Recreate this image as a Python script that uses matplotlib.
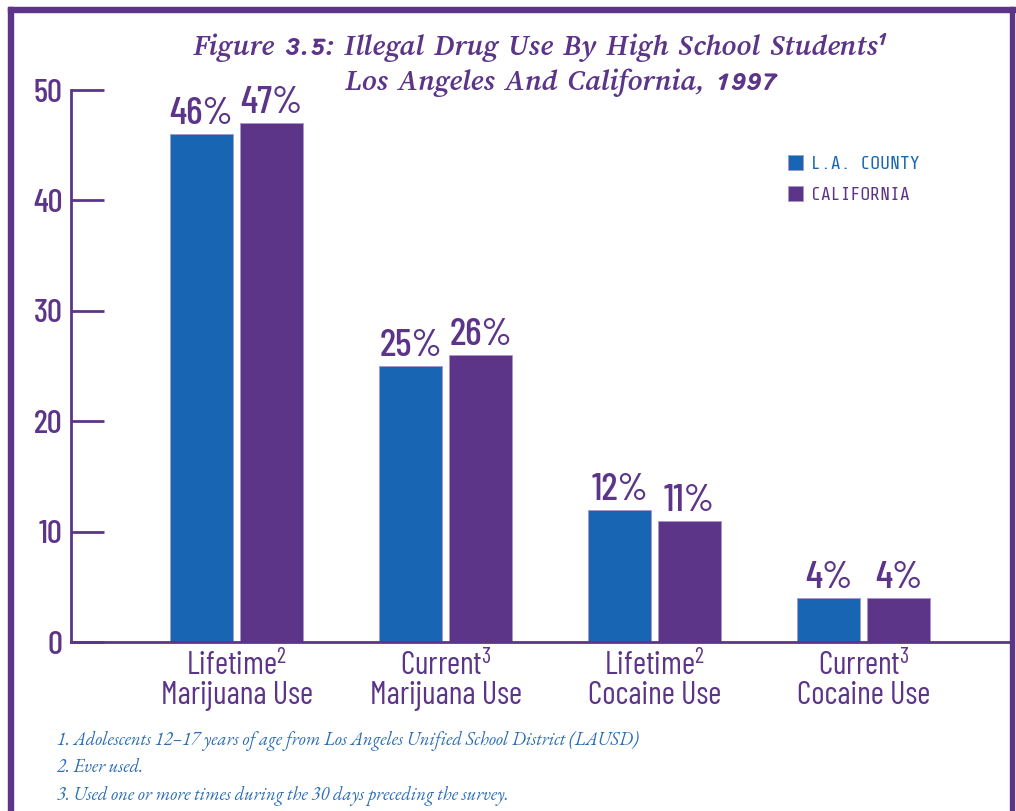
import matplotlib
matplotlib.use("Agg")
import matplotlib.pyplot as plt
from matplotlib.patches import Rectangle
import numpy as np

# data
categories = ["Lifetime$^{2}$\nMarijuana Use", "Current$^{3}$\nMarijuana Use",
              "Lifetime$^{2}$\nCocaine Use", "Current$^{3}$\nCocaine Use"]
la_county = [46, 25, 12, 4]
california = [47, 26, 11, 4]
series_names = ["L.A. COUNTY", "CALIFORNIA"]
y_ticks = [0, 10, 20, 30, 40, 50]
footnotes = [
    "1. Adolescents 12\u201317 years of age from Los Angeles Unified School District (LAUSD)",
    "2. Ever used.",
    "3. Used one or more times during the 30 days preceding the survey.",
]

BLUE = "#1865b3"
PURPLE = "#5c3589"
NOTE_BLUE = "#2a6db5"
cond = ["Barlow Condensed", "DejaVu Sans"]
title_font = ["Lisu Bosa", "Liberation Serif"]
note_font = ["EB Garamond", "Liberation Serif"]
legend_font = ["Share Tech Mono", "DejaVu Sans Mono"]

plt.rcParams["mathtext.fontset"] = "custom"
plt.rcParams["mathtext.rm"] = "Barlow Condensed"
plt.rcParams["mathtext.default"] = "regular"

W, H = 1016, 811
fig = plt.figure(figsize=(W / 100, H / 100), dpi=100)

# purple frame around the page
frame = dict(color=PURPLE, transform=fig.transFigure, figure=fig, zorder=10)
fig.add_artist(Rectangle((8 / W, 1 - 12 / H), 1 - 8 / W, 5 / H, **frame))
fig.add_artist(Rectangle((8 / W, 0), 5 / W, 1 - 7 / H, **frame))
fig.add_artist(Rectangle((1010 / W, 0), 4 / W, 1 - 7 / H, **frame))

ax = fig.add_axes([71 / W, 1 - 642 / H, (1010 - 71) / W, (642 - 90) / H])
x = np.arange(len(categories))
bw = 0.301
off = 0.1675
b1 = ax.bar(x - off, la_county, bw, color=BLUE, edgecolor="#a996cc", linewidth=0.6,
            label=series_names[0])
b2 = ax.bar(x + off, california, bw, color=PURPLE, edgecolor="#a996cc", linewidth=0.6,
            label=series_names[1])

for bars, vals in ((b1, la_county), (b2, california)):
    for bar, v in zip(bars, vals):
        ax.annotate(f"{v}%", (bar.get_x() + bar.get_width() / 2, v),
                    xytext=(0, 2), textcoords="offset points", ha="center", va="bottom",
                    fontsize=28, color=PURPLE, family=cond, fontweight="medium",
                    clip_on=False)

ax.set_xlim(-0.792, 3.701)
ax.set_ylim(0, 50)
ax.set_yticks(y_ticks)
ax.set_yticklabels([str(t) for t in y_ticks], fontsize=24, color=PURPLE, family=cond,
                   fontweight="medium")
ax.set_xticks(x)
ax.set_xticklabels(categories, fontsize=23, color=PURPLE, family=cond, linespacing=0.95)
ax.tick_params(axis="y", direction="in", length=24, width=2, color=PURPLE, pad=6)
ax.tick_params(axis="x", length=0, pad=6)
for s in ("top", "right"):
    ax.spines[s].set_visible(False)
for s in ("left", "bottom"):
    ax.spines[s].set_color(PURPLE)
    ax.spines[s].set_linewidth(2)

ax.legend(loc="upper left", bbox_to_anchor=(771 / W, 1 - 139 / H),
          bbox_transform=fig.transFigure, frameon=False,
          prop={"family": legend_font, "size": 13.2},
          handlelength=0.85, handleheight=0.85, handletextpad=0.45,
          labelspacing=0.75, labelcolor=[BLUE, PURPLE])

# title, two centred lines
title_kw = dict(ha="center", va="center", color=PURPLE, family=title_font,
                fontsize=22.6, fontweight=800, style="italic")
fig.text(540 / W, 1 - 47 / H, "Figure 3.5: Illegal Drug Use By High School Students$^{1}$",
         **title_kw)
fig.text(561 / W, 1 - 83 / H, "Los Angeles And California, 1997", **title_kw)

for i, note in enumerate(footnotes):
    fig.text(57 / W, 1 - (741 + 27.5 * i) / H, note, ha="left", va="center",
             color=NOTE_BLUE, family=note_font, style="italic", fontsize=13.3)

fig.savefig("out.png", dpi=100)
